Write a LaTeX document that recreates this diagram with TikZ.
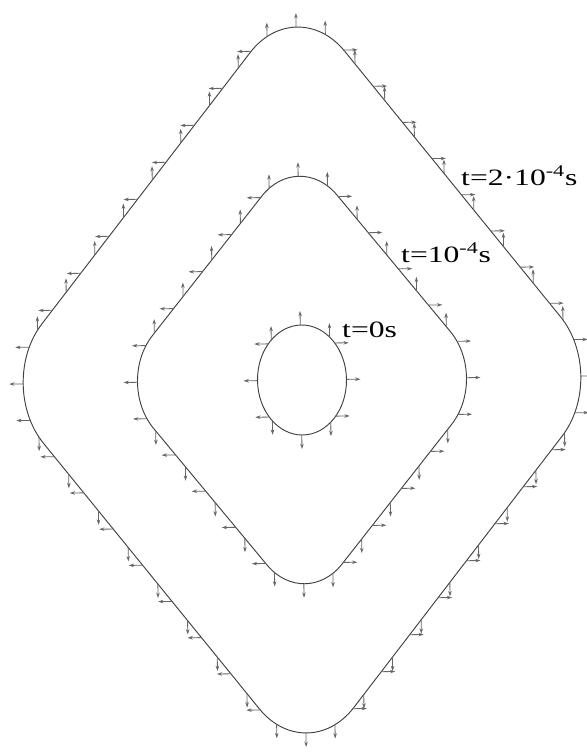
\documentclass[tikz,border=0pt]{standalone}
\usepackage{fontspec}
\setmainfont{Liberation Serif}
\usepackage{graphicx}
\usetikzlibrary{intersections,arrows.meta}

\tikzset{
  front/.style={draw=black!75,line width=.8pt},
  normal/.style={draw=black!60,line width=.7pt,-{Stealth[length=4.5pt,width=3pt]}},
  stamp/.style={inner sep=0pt,anchor=base west,font=\fontsize{20}{24}\selectfont}
}
% arrow where front #1 crosses the current ray
\newcommand\shownormal[3]{%
  \path[name intersections={of=#1 and ray,name=p,total=\tot}] \pgfextra{\xdef\hits{\tot}};
  \ifnum\hits>0 \draw[normal] (p-1) -- ++(#2,#3);\fi}

\begin{document}
\begin{tikzpicture}[x=.03cm,y=-.03cm]
  \path[use as bounding box] (0,0) rectangle (587,753);
  \begin{scope}[shift={(302,380)},rotate=.8]
    \draw[front,name path=f0] (0,0) ellipse [x radius=44.5,y radius=55];
    \draw[front,name path=f1,rounded corners=51pt] (-186.5,0) -- (0,-231) -- (186.5,0) -- (0,231) -- cycle;
    \draw[front,name path=f2,rounded corners=65pt] (-306.5,0) -- (0,-388) -- (306.5,0) -- (0,388) -- cycle;
    % normals where the fronts cross the grid lines
    \foreach \i in {-10,...,10}{
      \path[name path=ray] ({\i*29.2-1},0) -- ++(0,-420);
      \foreach \c in {f0,f1,f2}{\shownormal{\c}{0}{-14}}
      \path[name path=ray] ({\i*29.2-1},0) -- ++(0,420);
      \foreach \c in {f0,f1,f2}{\shownormal{\c}{0}{14}}
      \path[name path=ray] (0,{\i*36.6}) -- ++(-340,0);
      \foreach \c in {f0,f1,f2}{\shownormal{\c}{-14}{0}}
      \path[name path=ray] (0,{\i*36.6}) -- ++(340,0);
      \foreach \c in {f0,f1,f2}{\shownormal{\c}{14}{0}}
    }
  \end{scope}
  \node[stamp] (t2) at (461,185) {\scalebox{1.35}[1]{t=2·10\textsuperscript{-4}s}};
  \node[stamp] (t1) at (401,262) {\scalebox{1.35}[1]{t=10\textsuperscript{-4}s}};
  \node[stamp] (t0) at (342,337) {\scalebox{1.35}[1]{t=0s}};
\end{tikzpicture}
\end{document}
